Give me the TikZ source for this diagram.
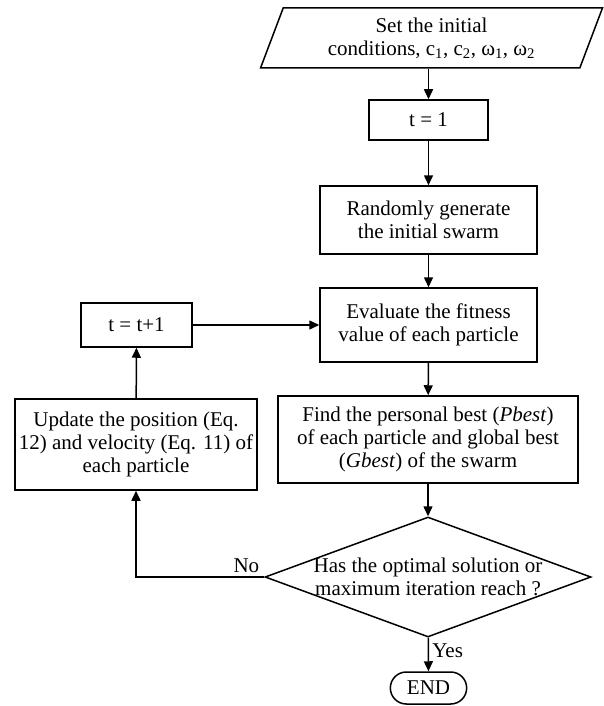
\documentclass[tikz,border=0pt]{standalone}
\usepackage{fontspec}
\setmainfont{Liberation Serif}
\usepackage{tikz}
\usetikzlibrary{arrows.meta,shapes.geometric,shapes.misc,positioning}

\begin{document}
\begin{tikzpicture}[x=1pt,y=-1pt,
          txt/.style={font=\fontsize{21}{23}\selectfont},
          blk/.style={rectangle,draw,line width=1.5pt,align=center,txt,
                      inner sep=1pt},
          inp/.style={trapezium,draw,line width=1.5pt,align=center,txt,
                      trapezium left angle=71,trapezium right angle=109,
                      trapezium stretches=true},
          dec/.style={diamond,draw,line width=1.5pt,txt,inner sep=0pt},
          term/.style={rounded rectangle,draw,line width=1.5pt,txt},
          arr/.style={-{Triangle[length=10pt,width=9pt]},line width=1.5pt},
        ]
        \useasboundingbox (0,0) rectangle (604,706);
        % Blocos
        \node[inp,minimum width=343pt,minimum height=60pt] (ini) at (431.5,38)
             {Set the initial\\conditions, c\textsubscript{1}, c\textsubscript{2}, ω\textsubscript{1}, ω\textsubscript{2}};
        \node[blk,minimum width=119pt,minimum height=40pt] (t1) at (428.5,120) {t = 1};
        \node[blk,minimum width=217pt,minimum height=68pt] (gen) at (428.5,220)
             {Randomly generate\\the initial swarm};
        \node[blk,minimum width=217pt,minimum height=74pt] (eval) at (428.5,325)
             {Evaluate the fitness\\value of each particle};
        \node[blk,minimum width=111pt,minimum height=44pt] (tinc) at (136.5,325) {t = t+1};
        \node[blk,minimum width=300pt,minimum height=87pt] (best) at (428,439.5)
             {Find the personal best (\textit{Pbest})\\of each particle and global best\\(\textit{Gbest}) of the swarm};
        \node[blk,minimum width=242pt,minimum height=91pt] (upd) at (136,444.5)
             {Update the position (Eq.\\12) and velocity (Eq. 11) of\\each particle};
        \node[dec,minimum width=326pt,minimum height=120pt,
              label={[txt,align=center]center:Has the optimal solution or\\maximum iteration reach ?}]
             (stop) at (428,577) {};
        \node[term,minimum width=83pt,minimum height=32pt] (fim) at (428.5,688) {END};
        % Setas
        \draw[arr] (ini.south -| t1.north) -- (t1.north);
        \draw[arr] (t1) -- (gen);
        \draw[arr] (gen) -- (eval);
        \draw[arr] (eval) -- (best);
        \draw[arr] (best) -- (stop);
        \draw[arr] (stop) -- node[txt,right,pos=0.4]{Yes} (fim);
        \draw[arr] (stop.west) node[txt,above left=0pt and 1pt]{No} -| (upd.south);
        \draw[arr] (upd) -- (tinc);
        \draw[arr] (tinc) -- (eval);
      \end{tikzpicture}
\end{document}
